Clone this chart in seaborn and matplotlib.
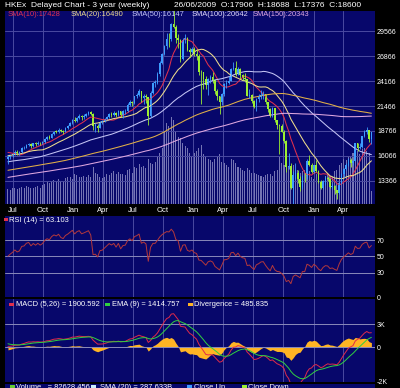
import numpy as np
import pandas as pd
import matplotlib
matplotlib.use('Agg')
import matplotlib.pyplot as plt
import matplotlib.dates as mdates
from matplotlib.patches import Rectangle
import seaborn as sns

# weekly closes Jul 2003 - Jun 2006, before the visible window (warm-up for SMA(150), MACD, RSI)
closes_before = [
    9600, 9900, 9800, 9900, 9900, 10000, 10200, 10400, 10400, 10800, 10900, 11200, 10900,
    11400, 11700, 12000, 11900, 12200, 12300, 12100, 11900, 12300, 12200, 12100, 12300, 12400,
    12800, 13200, 13700, 13800, 13300, 13300, 13800, 13900, 13900, 13600, 12900, 12600, 12500,
    12800, 12800, 12500, 12000, 12000, 11900, 11300, 11500, 12200, 12200, 12000, 12200, 12200,
    12200, 12300, 12300, 12100, 12200, 12200, 12300, 12700, 12900, 13000, 13000, 13200, 13100,
    13200, 13100, 13000, 13100, 13100, 13600, 13900, 14100, 14200, 14400, 14000, 14200, 14100, 14230,
    13600, 13700, 13600, 13700, 13800, 14000, 14000, 14200, 14000, 13900, 13700, 13500,
    13600, 13700, 13700, 13800, 13900, 13900, 13800, 13800, 13900, 13900, 13900, 14000, 14200,
    14100, 14000, 14400, 14700, 14900, 15300, 15400, 14900, 14900, 15000, 15300, 15300, 15200, 15400,
    14800, 14400, 14400, 14200, 14700, 14600, 14900, 15100, 15100, 15200, 15000, 14900, 14876,
    15500, 15400, 15600, 15700, 15600, 15500, 15400, 15900, 15900, 15600, 15900, 15800, 15800,
    16100, 16400, 16900, 16700, 17200, 17300, 16300, 15900, 16000, 15700,
]

# visible window: weeks ending 16/06/2006 ... 26/06/2009
closes = [
    15900, 16100, 16267, 16500, 16350, 16450, 16900, 16950, 17250, 17350,
    17150, 17400, 17300, 17500, 17400, 17550, 17900, 18100, 18050, 18450,
    18700, 18650, 18900, 18750, 18700, 19100, 19300, 19600, 19965,
    19800, 20200, 20400, 20250, 20400, 20600, 20800, 20600,
    19300, 19350, 19100, 19750, 19800, 20050, 20300, 20600, 20500,
    20700, 20450, 20900, 20500, 20900, 20950, 21600, 21900, 21770,
    22500, 22700, 23050, 22350, 22550, 22400, 20400, 22900, 23980,
    24000, 24900, 26150, 27140, 28000, 28750, 28700, 30400,
    30000, 28800, 28600, 26550, 28650, 28850, 27550, 27300, 27700,
    27100, 26900, 25200, 25100, 24400, 23700, 24400, 24600, 24300,
    23050, 22500, 21900, 22800, 23900, 23950, 24200, 25500,
    25600, 24900, 25500, 24800, 24500, 24400, 22600, 22700, 22000,
    21400, 22200, 22400, 22700, 22750, 21900, 21100, 20400, 21250,
    19950, 19400, 19300, 18700, 17700, 14800, 15000, 12600, 13950,
    14250, 13550, 12650, 13900, 13850, 15500, 15100, 14300,
    15040, 14400, 13250, 12600, 13280, 13650, 13550, 12700, 12800,
    12350, 12000, 13150, 14100, 14650, 15100, 15600, 15250,
    15520, 17400, 16960, 17060, 18170, 18680, 18890, 17920, 18600,
]
highs = [
    16100, 16200, 16400, 16650, 16700, 16600, 17000, 17150, 17350, 17500,
    17450, 17500, 17550, 17650, 17600, 17700, 18000, 18250, 18300, 18550,
    18800, 18850, 19050, 19000, 18900, 19200, 19450, 19700, 20050,
    20250, 20300, 20650, 20500, 20600, 20750, 20900, 20971,
    20700, 19600, 19500, 19850, 19950, 20200, 20400, 20750, 20800,
    20900, 20800, 21000, 20950, 21000, 21150, 21750, 22100, 22000,
    22600, 22900, 23350, 23100, 22800, 22800, 22400, 23100, 24100,
    24300, 25100, 26300, 27200, 28100, 29400, 29400, 30500,
    31958, 30200, 29300, 28700, 28800, 29300, 29000, 27800, 27900,
    27850, 27600, 27100, 25400, 25200, 24700, 24500, 24800, 25100,
    24400, 23300, 22600, 22900, 24000, 24300, 24700, 25600,
    26200, 26387, 25700, 25600, 24900, 25000, 24400, 23300, 22800,
    22100, 22300, 22800, 23200, 23100, 22800, 21900, 21200, 21400,
    21300, 20000, 19500, 19500, 18900, 17800, 16400, 15300, 14400,
    15300, 14500, 13900, 13950, 14200, 15700, 16100, 15300,
    15100, 15600, 14500, 13400, 13400, 13900, 13900, 13600, 13100,
    12900, 12400, 13300, 14200, 14700, 15300, 15800, 15800,
    15600, 17500, 17500, 17400, 18200, 18900, 19200, 18900, 18688,
]
lows = [
    15200, 15700, 15950, 16200, 16200, 16100, 16400, 16800, 16900, 17100,
    16950, 17050, 17150, 17200, 17250, 17350, 17450, 17800, 17900, 17950,
    18350, 18500, 18550, 18600, 18400, 18650, 19000, 19250, 19550,
    19700, 19750, 20100, 20000, 20100, 20300, 20500, 20500,
    18900, 18700, 18660, 19050, 19550, 19700, 19950, 20200, 20300,
    20400, 20300, 20400, 20300, 20200, 20600, 20850, 21500, 21500,
    21700, 22300, 22600, 21900, 21700, 21800, 19386, 20300, 22800,
    23500, 23800, 24700, 26000, 27000, 27700, 27900, 28500,
    29900, 28300, 27800, 26200, 26400, 28300, 27400, 26800, 27200,
    26900, 26500, 24800, 21709, 23300, 23300, 22700, 24000, 24000,
    22800, 22100, 20572, 21600, 22600, 23400, 23900, 24150,
    25400, 24700, 24800, 24400, 24300, 24100, 22500, 22300, 21800,
    21300, 20900, 21900, 22200, 22200, 21700, 20800, 20300, 20300,
    19700, 19000, 16283, 18600, 17500, 14300, 14600, 12500, 10676,
    13500, 13100, 12300, 12500, 13200, 13500, 15000, 14200,
    14200, 14300, 13100, 12500, 12500, 12900, 13300, 12600, 12500,
    11900, 11345, 11900, 13000, 13800, 14500, 15000, 14900,
    15100, 15500, 16600, 16800, 16900, 18100, 18400, 17600, 17376,
]
# weekly turnover, HK$ bn
volumes = [
    95, 90, 100, 105, 95, 100, 110, 105, 115, 110,
    100, 105, 110, 115, 105, 120, 130, 140, 135, 150,
    155, 145, 160, 150, 145, 165, 170, 175, 160,
    190, 185, 175, 170, 180, 175, 185, 170,
    240, 200, 195, 175, 165, 175, 190, 185, 200,
    210, 195, 205, 190, 195, 185, 215, 225, 200,
    240, 230, 255, 235, 245, 230, 290, 260, 255,
    270, 300, 330, 360, 470, 520, 500, 560,
    540, 460, 430, 420, 390, 370, 360, 330, 300,
    330, 340, 360, 380, 320, 300, 290, 280, 270,
    290, 300, 320, 270, 260, 250, 240, 290,
    280, 260, 240, 230, 220, 210, 230, 215, 200,
    200, 190, 185, 180, 175, 185, 190, 195, 180,
    210, 220, 300, 260, 250, 270, 240, 230, 250,
    220, 215, 200, 210, 220, 240, 210, 170,
    160, 190, 170, 150, 140, 180, 190, 180, 175,
    210, 220, 250, 260, 290, 280, 310, 300,
    330, 360, 340, 320, 350, 360, 340, 330, 83,
]

price_ticks = [13366, 16066, 18766, 21466, 24166, 26866, 29566]
rsi_ticks = [0, 30, 50, 70]
rsi_lines = [30, 50, 70]
macd_ticks = [3000, 0, -4400]
macd_labels = ['3K', '0', '-2K']
macd_lines = [3000, 0]

W, H = 400, 388
NAVY = '#07076b'
GRID = '#4a4aa0'
HLINE = '#8a8aba'
UP = '#3d9cff'
DOWN = '#9cf032'
SMA_COLORS = {10: '#e0304e', 20: '#eedc8c', 50: '#c4c4f4', 100: '#e2b048', 150: '#e0a8e0'}

# ---- indicators
all_close = pd.Series(closes_before + closes, dtype=float)
all_close.index = pd.date_range(end='2009-06-26', periods=len(all_close), freq='W-FRI')
n = len(closes)
d = all_close.index[-n:]
c = np.array(closes, float)
o = all_close.shift(1).values[-n:]
hi = np.array(highs, float)
lo = np.array(lows, float)

sma = {k: all_close.rolling(k).mean().values[-n:] for k in SMA_COLORS}
macd_all = all_close.ewm(span=5, adjust=False).mean() - all_close.ewm(span=26, adjust=False).mean()
sig_all = macd_all.ewm(span=9, adjust=False).mean()
macd = macd_all.values[-n:]
sig = sig_all.values[-n:]
div = macd - sig
delta = all_close.diff()
gain = delta.clip(lower=0).ewm(alpha=1 / 14, adjust=False).mean()
loss = (-delta.clip(upper=0)).ewm(alpha=1 / 14, adjust=False).mean()
rsi = (100 - 100 / (1 + gain / loss)).values[-n:]

# ---- figure
sns.set_theme(style='dark')
plt.rcParams['font.family'] = ['Liberation Sans', 'DejaVu Sans']
fig = plt.figure(figsize=(W / 100, H / 100), dpi=100, facecolor='black')

x0, x1 = pd.Timestamp('2006-06-07'), pd.Timestamp('2009-07-07')
qticks = pd.date_range('2006-07-01', '2009-04-01', freq='QS')


def panel(top, bottom, face=NAVY):
    ax = fig.add_axes([5 / W, 1 - bottom / H, 370 / W, (bottom - top) / H], facecolor=face)
    for s in ax.spines.values():
        s.set_visible(False)
    ax.yaxis.tick_right()
    ax.tick_params(axis='y', colors='white', labelsize=5, length=0, pad=1.5)
    ax.tick_params(axis='x', colors='white', labelsize=5.5, length=0, pad=2.5)
    ax.set_xlim(x0, x1)
    ax.set_xticks(qticks)
    ax.xaxis.set_major_formatter(mdates.DateFormatter('%b'))
    ax.grid(False)
    return ax


def put(x, y, s, color='white', size=5.4, va='center'):
    fig.text(x / W, 1 - y / H, s, color=color, fontsize=size, va=va, ha='left')


def square(x, y, w, h, color):
    fig.add_artist(Rectangle((x / W, 1 - (y + h) / H), w / W, h / H,
                             transform=fig.transFigure, color=color, lw=0, zorder=10))


# price panel (volume underneath on its own scale)
ax_vol = panel(10.5, 204)
ax_vol.grid(axis='x', color=GRID, lw=0.7)
ax_vol.bar(d, volumes, width=3.2, color='#7474b4', lw=0, edgecolor='none')
ax_vol.set_ylim(0, 1240)
ax_vol.set_yticks([])
ax_vol.tick_params(axis='x', labelbottom=False)

ax = panel(10.5, 204, face='none')
ax.set_ylim(10840, 31821)
ax.set_yticks(price_ticks)
ax.grid(axis='y', color=GRID, lw=0.7)

for k, col in SMA_COLORS.items():
    sns.lineplot(x=d, y=sma[k], ax=ax, color=col, lw=0.75)

up = c >= o
for mask, col in [(up, UP), (~up, DOWN)]:
    ax.vlines(d[mask], lo[mask], hi[mask], color=col, lw=0.6)
    ax.bar(d[mask], np.maximum(np.abs(c - o), 60)[mask], bottom=np.minimum(c, o)[mask],
           width=5, color=col, lw=0, edgecolor='none')
ax.set_xlabel('')
ax.set_ylabel('')

# RSI panel
ax_r = panel(215.5, 297.3)
ax_r.grid(axis='x', color=GRID, lw=0.7)
for v in rsi_lines:
    ax_r.axhline(v, color=HLINE, lw=0.7)
sns.lineplot(x=d, y=rsi, ax=ax_r, color='#b4383c', lw=0.7)
ax_r.set_ylim(0, 100)
ax_r.set_yticks(rsi_ticks)
ax_r.tick_params(axis='x', labelbottom=False)
ax_r.set_xlabel('')
ax_r.set_ylabel('')

# MACD panel
ax_m = panel(299, 382)
ax_m.grid(axis='x', color=GRID, lw=0.7)
for v in macd_lines:
    ax_m.axhline(v, color=HLINE, lw=0.7)
ax_m.fill_between(d, div, 0, color='#ffb424', lw=0)
sns.lineplot(x=d, y=macd, ax=ax_m, color='#e02a4a', lw=0.7)
sns.lineplot(x=d, y=sig, ax=ax_m, color='#30d040', lw=0.7)
ax_m.set_ylim(-4470, 6220)
ax_m.set_yticks(macd_ticks, macd_labels)
ax_m.tick_params(axis='x', labelbottom=False)
ax_m.set_xlabel('')
ax_m.set_ylabel('')

# volume legend strip, cut by the image edge as in the source
strip = fig.add_axes([5 / W, 0, 370 / W, 4.5 / H], facecolor=NAVY)
strip.set_axis_off()
strip.add_patch(Rectangle((0, 0), 1, 1, transform=strip.transAxes, color=NAVY, lw=0))

# texts
put(5, 5.5, 'HKEx  Delayed Chart - 3 year (weekly)', size=6)
put(174, 5.5, '26/06/2009  O:17906  H:18688  L:17376  C:18600', size=6)
put(8, 14, 'SMA(10):17428', SMA_COLORS[10])
put(71, 14, 'SMA(20):16490', SMA_COLORS[20])
put(132, 14, 'SMA(50):16147', SMA_COLORS[50])
put(192, 14, 'SMA(100):20642', '#e0d8f8')
put(253, 14, 'SMA(150):20343', SMA_COLORS[150])

square(4, 218, 4, 3, '#e0304e')
put(9, 220, 'RSI (14) = 63.103')

square(9, 302.5, 5, 3, '#e0304e')
put(16, 304, 'MACD (5,26) = 1900.592')
square(105, 302.5, 5, 3, '#30d040')
put(112, 304, 'EMA (9) = 1414.757')
square(188, 302.5, 5, 3, '#ffb424')
put(194, 304, 'Divergence = 485.835')

square(10, 385, 5, 4, '#66cc33')
put(16, 384.3, 'Volume   = 82628.456', va='top')
square(91, 385, 5, 4, '#cceeff')
put(100, 384.3, 'SMA (20) = 287.633B', va='top')
square(187, 385, 5, 4, UP)
put(194, 384.3, 'Close Up', va='top')
square(242, 385, 5, 4, DOWN)
put(248, 384.3, 'Close Down', va='top')

fig.savefig('out.png', dpi=100, facecolor='black')
